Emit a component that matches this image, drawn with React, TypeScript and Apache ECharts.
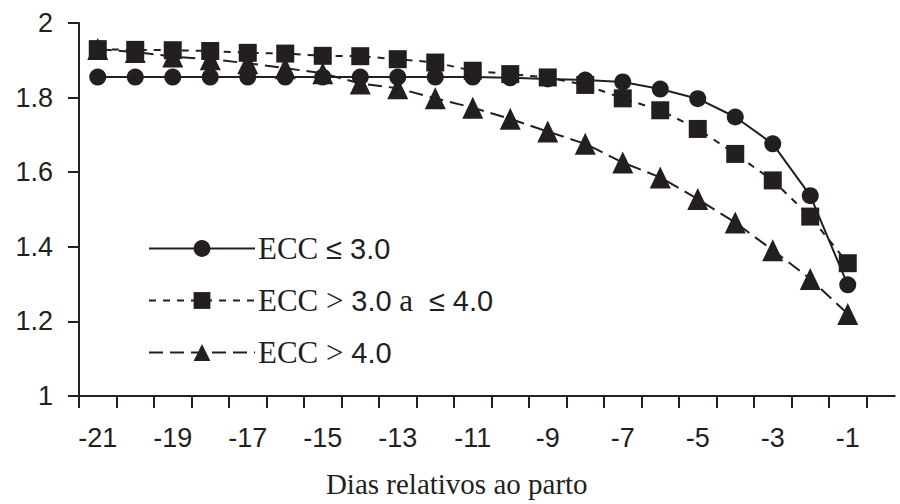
import React, { useEffect, useRef } from "react";
import * as echarts from "echarts";

// Days relative to calving
const days = ["-21", "-20", "-19", "-18", "-17", "-16", "-15", "-14", "-13", "-12", "-11", "-10", "-9", "-8", "-7", "-6", "-5", "-4", "-3", "-2", "-1"];

// ECC <= 3.0 (circles, solid line)
const ecc30 = [1.855, 1.855, 1.855, 1.855, 1.855, 1.855, 1.855, 1.855, 1.855, 1.855, 1.855, 1.853, 1.85, 1.847, 1.842, 1.823, 1.797, 1.748, 1.676, 1.537, 1.298];

// ECC > 3.0 a <= 4.0 (squares, short dashes)
const ecc30to40 = [1.93, 1.928, 1.927, 1.925, 1.92, 1.918, 1.912, 1.911, 1.903, 1.894, 1.872, 1.863, 1.854, 1.834, 1.798, 1.766, 1.716, 1.649, 1.578, 1.481, 1.356];

// ECC > 4.0 (triangles, long dashes)
const ecc40 = [1.93, 1.922, 1.91, 1.903, 1.892, 1.879, 1.865, 1.838, 1.825, 1.798, 1.773, 1.743, 1.709, 1.676, 1.626, 1.586, 1.528, 1.465, 1.391, 1.314, 1.22];

const seriesNames = ["ECC ≤ 3.0", "ECC > 3.0 a ≤ 4.0", "ECC > 4.0"];
const legendRich: Record<string, string> = {
  "ECC ≤ 3.0": "{s|ECC }{a|≤ 3.0}",
  "ECC > 3.0 a ≤ 4.0": "{s|ECC > }{a|3.0}{s| a }{a| ≤ 4.0}",
  "ECC > 4.0": "{s|ECC > }{a|4.0}",
};

const INK = "#231f20";
const SANS = "Liberation Sans";
const SERIF = "Liberation Serif";

export default function App() {
  const ref = useRef<HTMLDivElement>(null);

  useEffect(() => {
    if (!ref.current) return;
    const chart = echarts.init(ref.current, undefined, { renderer: "svg" });
    const option: any = {
      animation: false,
      backgroundColor: "#ffffff",
      grid: { left: 79, top: 23, width: 787.5, height: 373, containLabel: false },
      xAxis: {
        type: "category",
        data: days,
        boundaryGap: true,
        name: "Dias relativos ao parto",
        nameLocation: "middle",
        nameGap: 73,
        nameTextStyle: { fontFamily: SERIF, fontSize: 29, color: INK, padding: [0, 32, 0, 0] },
        axisLine: {
          show: true,
          lineStyle: { color: INK, width: 2 },
          symbol: ["none", "rect"],
          symbolSize: [2, 58],
          symbolOffset: [0, 0],
        },
        axisTick: { show: true, interval: 0, length: 12, alignWithLabel: false, lineStyle: { color: INK, width: 2 } },
        axisLabel: { interval: 1, margin: 28, fontFamily: SANS, fontSize: 27, color: INK },
        splitLine: { show: false },
      },
      yAxis: {
        type: "value",
        min: 1,
        max: 2,
        interval: 0.2,
        axisLine: { show: true, lineStyle: { color: INK, width: 2 } },
        axisTick: { show: true, inside: false, length: 11, lineStyle: { color: INK, width: 2 } },
        axisLabel: { margin: 26, fontFamily: SANS, fontSize: 27, color: INK },
        splitLine: { show: false },
      },
      legend: {
        orient: "vertical",
        left: 143,
        top: 228,
        itemWidth: 106,
        itemHeight: 21,
        itemGap: 21,
        data: seriesNames,
        formatter: (n: string) => legendRich[n] || n,
        textStyle: {
          color: INK,
          fontFamily: SERIF,
          fontSize: 31,
          padding: [0, 0, 0, -2],
          rich: {
            s: { fontFamily: SERIF, fontSize: 31, color: INK, lineHeight: 33 },
            a: { fontFamily: SANS, fontSize: 29, color: INK, lineHeight: 33 },
          },
        },
      },
      series: [
        {
          name: seriesNames[2],
          type: "line",
          data: ecc40,
          symbol: "triangle",
          symbolSize: [21, 22],
          lineStyle: { color: INK, width: 2, type: [14, 7] },
          itemStyle: { color: INK },
          z: 2,
        },
        {
          name: seriesNames[0],
          type: "line",
          data: ecc30,
          symbol: "circle",
          symbolSize: 17,
          lineStyle: { color: INK, width: 2, type: "solid" },
          itemStyle: { color: INK },
          z: 3,
        },
        {
          name: seriesNames[1],
          type: "line",
          data: ecc30to40,
          symbol: "rect",
          symbolSize: 18,
          lineStyle: { color: INK, width: 2, type: [7, 7] },
          itemStyle: { color: INK },
          z: 4,
        },
      ],
    };
    chart.setOption(option);
    return () => chart.dispose();
  }, []);

  return (
    <div
      ref={ref}
      style={{ position: "fixed", left: 0, top: 0, width: 900, height: 504, background: "#fff" }}
    />
  );
}
